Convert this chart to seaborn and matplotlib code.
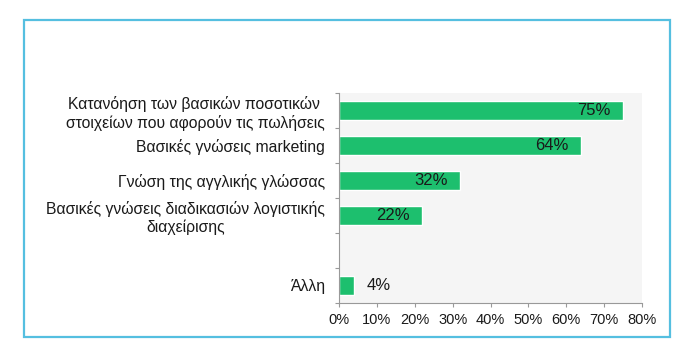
import matplotlib
matplotlib.use("Agg")
import matplotlib.pyplot as plt
import seaborn as sns
import pandas as pd
from matplotlib.patches import Rectangle
from matplotlib.ticker import FixedLocator, PercentFormatter

categories = [
    "Κατανόηση των βασικών ποσοτικών \nστοιχείων που αφορούν τις πωλήσεις",
    "Βασικές γνώσεις marketing",
    "Γνώση της αγγλικής γλώσσας",
    "Βασικές γνώσεις διαδικασιών λογιστικής\nδιαχείρισης",
    "Άλλη",
]
values = [75, 64, 32, 22, 4]
order = categories[:4] + [" "] + categories[4:]
xticks = [0, 10, 20, 30, 40, 50, 60, 70, 80]

sns.set_theme(style="white")
plt.rcParams["font.family"] = ["Liberation Sans", "DejaVu Sans"]

df = pd.DataFrame({"cat": categories, "val": values})

fig = plt.figure(figsize=(7.0, 3.53), dpi=100)
fig.patch.set_facecolor("white")
ax = fig.add_axes([339/700, 1-303/353, (642-339)/700, (303-93)/353])
ax.set_facecolor("#f5f5f5")

sns.barplot(data=df, x="val", y="cat", order=order, orient="h",
            color="#1dbf6e", saturation=1, width=0.57, ax=ax)

ax.set_xlim(0, 80)
ax.set_ylim(len(order) - 0.5, -0.5)
ax.set_xlabel("")
ax.set_ylabel("")

txtc = "#1a1a1a"
for i, (c, v) in enumerate(zip(categories, values)):
    y = order.index(c)
    if v > 10:
        ax.annotate(f"{v}%", (v, y), xytext=(-9, 0), textcoords="offset points",
                    ha="right", va="center", fontsize=12, color=txtc)
    else:
        ax.annotate(f"{v}%", (v, y), xytext=(9, 0), textcoords="offset points",
                    ha="left", va="center", fontsize=12, color=txtc)

ax.xaxis.set_major_locator(FixedLocator(xticks))
ax.xaxis.set_major_formatter(PercentFormatter(decimals=0))
ax.tick_params(axis="x", which="major", length=3, width=0.8, color="#999999",
               direction="out", pad=4, labelsize=10.5, labelcolor=txtc, bottom=True)
ax.set_yticks(range(len(order)), labels=order, fontsize=11.3, color=txtc)
ax.tick_params(axis="y", which="major", length=0, pad=10)
ax.yaxis.set_minor_locator(FixedLocator([i - 0.5 for i in range(len(order) + 1)]))
ax.tick_params(axis="y", which="minor", length=3, width=0.8, color="#999999",
               direction="out", left=True)

for s in ["top", "right"]:
    ax.spines[s].set_visible(False)
for s in ["left", "bottom"]:
    ax.spines[s].set_color("#999999")
    ax.spines[s].set_linewidth(0.8)

fig.patches.append(Rectangle((24/700, 1-337/353), 646/700, (337-19.5)/353,
                             transform=fig.transFigure, fill=False,
                             edgecolor="#55bfe0", linewidth=1.6))

fig.canvas.draw()
for tick in ax.yaxis.get_major_ticks():
    tick.label1.set_multialignment("center")

fig.savefig("out.png", dpi=100)
